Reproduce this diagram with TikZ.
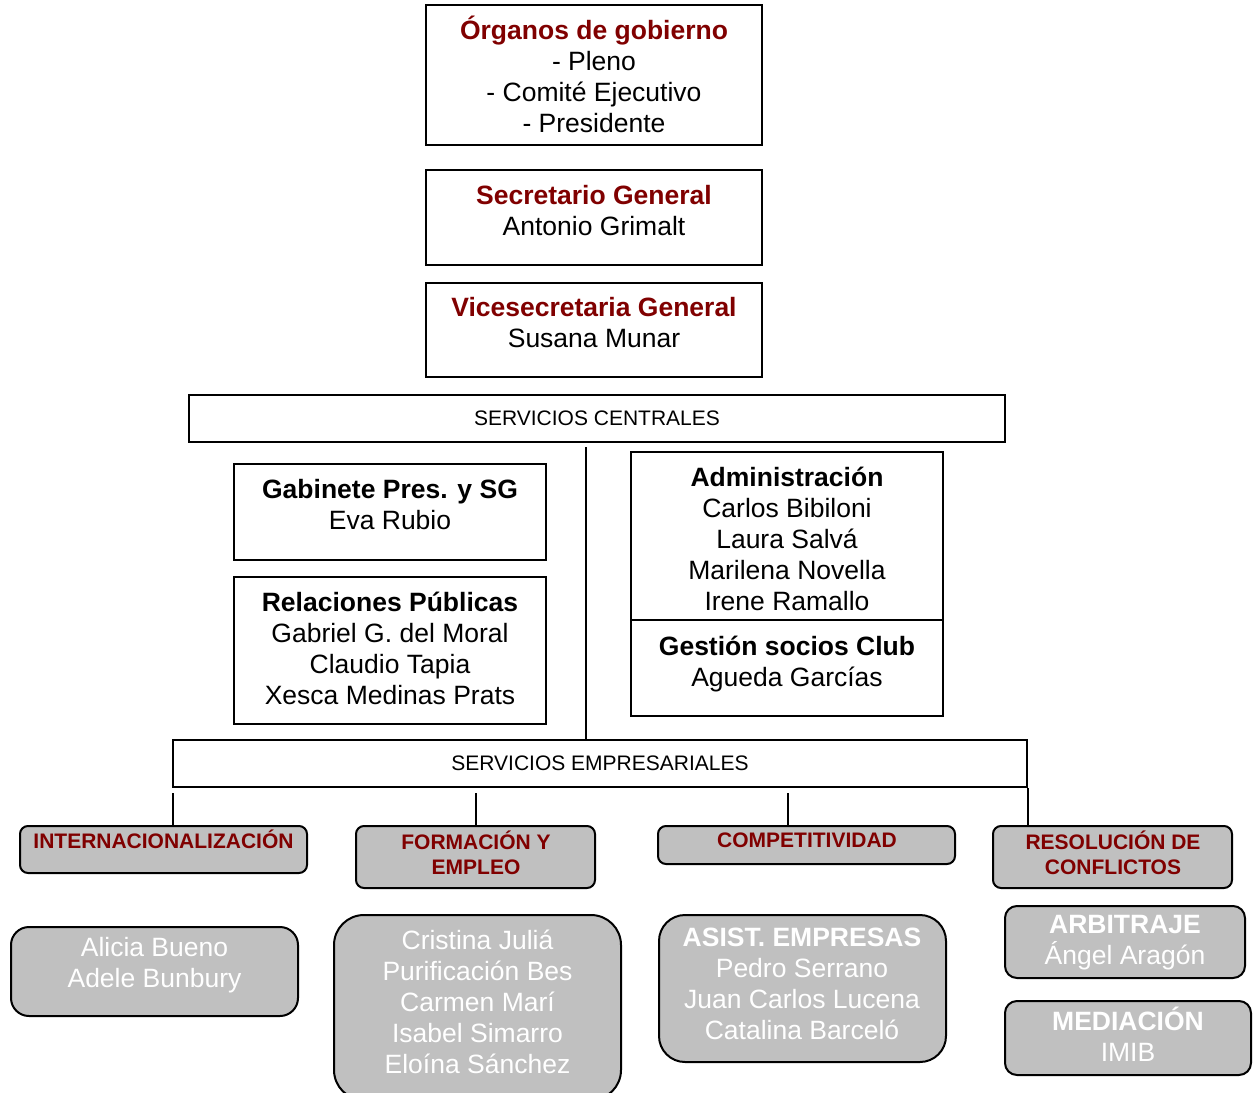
\documentclass[tikz,border=0pt]{standalone}
\usepackage{fontspec}
\setmainfont{Liberation Sans}
\usepackage{xcolor}
\usepackage{tikz}
\definecolor{rojo}{RGB}{128,0,0}
\definecolor{gris}{RGB}{192,192,192}
\newcommand{\tituloRojo}[1]{\textcolor{rojo}{\bfseries #1}}

\tikzset{
	caja/.style = {draw, line width=2pt, inner sep=0pt},
	rama/.style = {draw, line width=2pt, inner sep=0pt, fill=gris, rounded corners=8pt},
	equipo/.style = {draw, line width=2pt, inner sep=0pt, fill=gris, rounded corners=18pt},
	texto/.style = {align=center, inner sep=0pt, font=\fontsize{26.5}{31}\selectfont},
	blanco/.style = {texto, text=white},
	ramatxt/.style = {align=center, inner sep=0pt, text=rojo, font=\bfseries\fontsize{21}{25}\selectfont},
	rotulo/.style = {inner sep=0pt, font=\fontsize{21}{25}\selectfont},
	linea/.style = {line width=2pt},
}

\begin{document}
\begin{tikzpicture}[x=1pt, y=-1pt]
	\useasboundingbox (0,0) rectangle (1254,1093);
	
	% direccion
	\node[caja, minimum width=336pt, minimum height=140pt] (organos) at (594,75) {};
	\node[texto] (organos-t) at (594,74.5) {\tituloRojo{Órganos de gobierno}\\ - Pleno\\ - Comité Ejecutivo\\ - Presidente};
	
	\node[caja, minimum width=336pt, minimum height=95pt] (secretario) at (594,217.5) {};
	\node[texto] (secretario-t) at (594,210.5) {\tituloRojo{Secretario General}\\ Antonio Grimalt};
	
	\node[caja, minimum width=336pt, minimum height=94pt] (vice) at (594,330) {};
	\node[texto] (vice-t) at (594,323) {\tituloRojo{Vicesecretaria General}\\ Susana Munar};
	
	% servicios centrales
	\node[caja, minimum width=816pt, minimum height=47pt] (centrales) at (597,418.5) {};
	\node[rotulo] (centrales-t) at (597,418.5) {SERVICIOS CENTRALES};
	
	\node[caja, minimum width=312pt, minimum height=96pt] (gabinete) at (390,512) {};
	\node[texto] (gabinete-t) at (390,505) {\textbf{Gabinete Pres. y SG}\\ Eva Rubio};
	
	\node[caja, minimum width=312pt, minimum height=147pt] (relaciones) at (390,650.5) {};
	\node[texto] (relaciones-t) at (390,648.5) {\textbf{Relaciones Públicas}\\ Gabriel G. del Moral\\ Claudio Tapia\\ Xesca Medinas Prats};
	
	\node[caja, minimum width=312pt, minimum height=168pt] (admin) at (787,536) {};
	\node[texto] (admin-t) at (787,539) {\textbf{Administración}\\ Carlos Bibiloni\\ Laura Salvá\\ Marilena Novella\\ Irene Ramallo};
	
	\node[caja, minimum width=312pt, minimum height=96pt] (socios) at (787,668) {};
	\node[texto] (socios-t) at (787,664.5) {\textbf{Gestión socios Club}\\ Agueda Garcías};
	
	% servicios empresariales
	\node[caja, minimum width=854pt, minimum height=47pt] (empresariales) at (600,763.5) {};
	\node[rotulo] (empresariales-t) at (600,763.5) {SERVICIOS EMPRESARIALES};
	
	\coordinate (eje) at (586,447);
	\draw[linea] (eje) -- (eje |- empresariales.north);
	
	\node[rama, minimum width=287pt, minimum height=47pt] (inter) at (163.5,849.5) {};
	\node[ramatxt] (inter-t) at (163.5,839.5) {INTERNACIONALIZACIÓN};
	
	\node[rama, minimum width=239pt, minimum height=62pt] (formacion) at (475.5,857) {};
	\node[ramatxt] (formacion-t) at (476,853) {FORMACIÓN Y\\ EMPLEO};
	
	\node[rama, minimum width=297pt, minimum height=38pt] (competitividad) at (806.5,845) {};
	\node[ramatxt] (competitividad-t) at (807,840.5) {COMPETITIVIDAD};
	
	\node[rama, minimum width=239pt, minimum height=62pt] (resolucion) at (1112.5,857) {};
	\node[ramatxt] (resolucion-t) at (1113,853) {RESOLUCIÓN DE\\ CONFLICTOS};
	
	\coordinate (inter-link) at (173,793);
	\coordinate (formacion-link) at (476,793);
	\coordinate (comp-link) at (788,793);
	\draw[linea] (inter-link) -- (inter-link |- inter.north);
	\draw[linea] (formacion-link) -- (formacion-link |- formacion.north);
	\draw[linea] (comp-link) -- (comp-link |- competitividad.north);
	\draw[linea] (empresariales.south east) -- (empresariales.south east |- resolucion.north);
	
	% equipos
	\node[equipo, minimum width=287pt, minimum height=89pt] (alicia) at (154.5,971.5) {};
	\node[blanco] (alicia-t) at (154.5,965.5) {Alicia Bueno\\ Adele Bunbury};
	
	\node[equipo, rounded corners=30pt, minimum width=287pt, minimum height=185pt] (cristina) at (477.5,1007.5) {};
	\node[blanco] (cristina-t) at (477.5,1002) {Cristina Juliá\\ Purificación Bes\\ Carmen Marí\\ Isabel Simarro\\ Eloína Sánchez};
	
	\node[equipo, rounded corners=26pt, minimum width=287pt, minimum height=147pt] (asist) at (802.5,988.5) {};
	\node[blanco] (asist-t) at (802,984) {\textbf{ASIST. EMPRESAS}\\ Pedro Serrano\\ Juan Carlos Lucena\\ Catalina Barceló};
	
	\node[equipo, rounded corners=12pt, minimum width=240pt, minimum height=72pt] (arbitraje) at (1125,942) {};
	\node[blanco] (arbitraje-t) at (1125,943) {\textbf{ARBITRAJE}\\ Ángel Aragón};
	
	\node[equipo, rounded corners=12pt, minimum width=246pt, minimum height=74pt] (mediacion) at (1128,1038) {};
	\node[blanco] (mediacion-t) at (1128,1034.5) {\textbf{MEDIACIÓN}\\ IMIB};
\end{tikzpicture}
\end{document}
